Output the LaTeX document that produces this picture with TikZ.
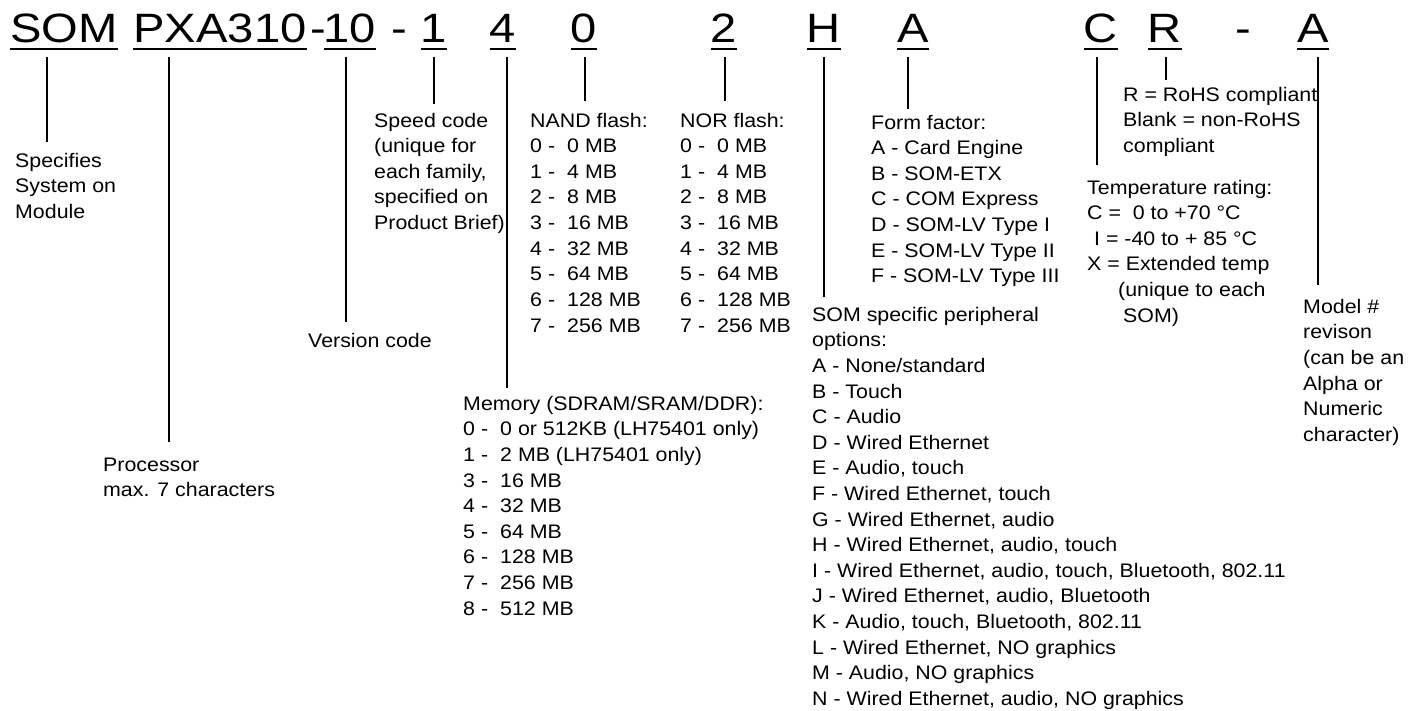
\documentclass[tikz,border=0pt]{standalone}
\usepackage{fontspec}
\setmainfont{Liberation Sans}[FakeStretch=1.09]
\newfontfamily\codefont{Liberation Sans}[FakeStretch=1.15]
\usetikzlibrary{calc}
\begin{document}
\begin{tikzpicture}[x=1pt,y=-1pt,
  code/.style={font=\codefont\fontsize{41}{41}\selectfont, inner sep=0pt, anchor=base},
  desc/.style={font=\fontsize{19.6}{25.6}\selectfont, inner sep=0pt, anchor=north west, yshift=17.92pt, align=left},
  conn/.style={line width=1.4pt},
  uline/.style={line width=2.4pt}]
\path[use as bounding box, fill=white] (0,0) rectangle (1419,711);

% part number characters
\node[code] (som)  at (64,43)   {SOM};
\node[code] (pxa)  at (220,43)  {PXA310};
\node[code] (d1)   at (318,43)  {-};
\node[code] (ver)  at (350,43)  {10};
\node[code] (d2)   at (399,43)  {-};
\node[code] (spd)  at (434,43)  {1};
\node[code] (mem)  at (503,43)  {4};
\node[code] (nand) at (584,43)  {0};
\node[code] (nor)  at (724,43)  {2};
\node[code] (per)  at (824,43)  {H};
\node[code] (ff)   at (913,43)  {A};
\node[code] (tmp)  at (1101,43) {C};
\node[code] (rohs) at (1165,43) {R};
\node[code] (d3)   at (1243,43) {-};
\node[code] (rev)  at (1313,43) {A};

\foreach \n in {som,pxa,ver,spd,mem,nand,nor,per,ff,tmp,rohs,rev}
  \draw[uline] ($(\n.base west)+(0,6)$) -- ($(\n.base east)+(0,6)$);

% descriptions
\node[desc] (spec) at (15,167) {\strut Specifies\\System on\\Module};
\node[desc] (proc) at (103,471) {\strut Processor\\max. 7 characters};
\node[desc] (vers) at (308,347) {\strut Version code};
\node[desc] (speed) at (374,127) {\strut Speed code\\(unique for\\each family,\\specified on\\Product Brief)};
\node[desc] (memd) at (463,410) {\strut Memory (SDRAM/SRAM/DDR):\\
  \makebox[37pt][l]{0 -}0 or 512KB (LH75401 only)\\
  \makebox[37pt][l]{1 -}2 MB (LH75401 only)\\
  \makebox[37pt][l]{3 -}16 MB\\
  \makebox[37pt][l]{4 -}32 MB\\
  \makebox[37pt][l]{5 -}64 MB\\
  \makebox[37pt][l]{6 -}128 MB\\
  \makebox[37pt][l]{7 -}256 MB\\
  \makebox[37pt][l]{8 -}512 MB};
\node[desc] (nandd) at (530,127) {\strut NAND flash:\\
  \makebox[37pt][l]{0 -}0 MB\\
  \makebox[37pt][l]{1 -}4 MB\\
  \makebox[37pt][l]{2 -}8 MB\\
  \makebox[37pt][l]{3 -}16 MB\\
  \makebox[37pt][l]{4 -}32 MB\\
  \makebox[37pt][l]{5 -}64 MB\\
  \makebox[37pt][l]{6 -}128 MB\\
  \makebox[37pt][l]{7 -}256 MB};
\node[desc] (nord) at (680,127) {\strut NOR flash:\\
  \makebox[37pt][l]{0 -}0 MB\\
  \makebox[37pt][l]{1 -}4 MB\\
  \makebox[37pt][l]{2 -}8 MB\\
  \makebox[37pt][l]{3 -}16 MB\\
  \makebox[37pt][l]{4 -}32 MB\\
  \makebox[37pt][l]{5 -}64 MB\\
  \makebox[37pt][l]{6 -}128 MB\\
  \makebox[37pt][l]{7 -}256 MB};
\node[desc] (ffd) at (871,129) {\strut Form factor:\\A - Card Engine\\B - SOM-ETX\\C - COM Express\\D - SOM-LV Type I\\E - SOM-LV Type II\\F - SOM-LV Type III};
\node[desc] (perd) at (812,321) {\strut SOM specific peripheral\\options:\\A - None/standard\\B - Touch\\C - Audio\\D - Wired Ethernet\\E - Audio, touch\\F - Wired Ethernet, touch\\G - Wired Ethernet, audio\\H - Wired Ethernet, audio, touch\\I - Wired Ethernet, audio, touch, Bluetooth, 802.11\\J - Wired Ethernet, audio, Bluetooth\\K - Audio, touch, Bluetooth, 802.11\\L - Wired Ethernet, NO graphics\\M - Audio, NO graphics\\N - Wired Ethernet, audio, NO graphics};
\node[desc] (tmpd) at (1087,194) {\strut Temperature rating:\\C =\ \ 0 to +70 °C\\\hspace*{7pt}I = -40 to + 85 °C\\X = Extended temp\\\hspace*{31pt}(unique to each\\\hspace*{36pt}SOM)};
\node[desc] (rohsd) at (1123,101) {\strut R = RoHS compliant\\Blank = non-RoHS\\compliant};
\node[desc] (revd) at (1303,313) {\strut Model \#\\revison\\(can be an\\Alpha or\\Numeric\\character)};

% connector x positions
\coordinate (xa) at (47,0);
\coordinate (xb) at (169,0);
\coordinate (xc) at (346,0);
\coordinate (xd) at (434,0);
\coordinate (xe) at (507,0);
\coordinate (xf) at (585,0);
\coordinate (xg) at (725,0);
\coordinate (xh) at (824,0);
\coordinate (xi) at (908,0);
\coordinate (xj) at (1097,0);
\coordinate (xk) at (1166,0);
\coordinate (xl) at (1318,0);

\draw[conn] ($(som.base -| xa)+(0,14)$)  -- ($(spec.north -| xa)+(0,-7)$);
\draw[conn] ($(pxa.base -| xb)+(0,14)$)  -- ($(proc.north -| xb)+(0,-11)$);
\draw[conn] ($(ver.base -| xc)+(0,14)$)  -- ($(vers.north -| xc)+(0,-7)$);
\draw[conn] ($(spd.base -| xd)+(0,14)$)  -- ($(speed.north -| xd)+(0,-5)$);
\draw[conn] ($(mem.base -| xe)+(0,14)$)  -- ($(memd.north -| xe)+(0,-4)$);
\draw[conn] ($(nand.base -| xf)+(0,14)$) -- ($(nandd.north -| xf)+(0,-8)$);
\draw[conn] ($(nor.base -| xg)+(0,14)$)  -- ($(nord.north -| xg)+(0,-8)$);
\draw[conn] ($(per.base -| xh)+(0,14)$)  -- ($(perd.north -| xh)+(0,-6)$);
\draw[conn] ($(ff.base -| xi)+(0,14)$)   -- ($(ffd.north -| xi)+(0,-2)$);
\draw[conn] ($(tmp.base -| xj)+(0,14)$)  -- ($(tmpd.north -| xj)+(0,-11)$);
\draw[conn] ($(rohs.base -| xk)+(0,14)$) -- ($(rohsd.north -| xk)+(0,-3)$);
\draw[conn] ($(rev.base -| xl)+(0,14)$)  -- ($(revd.north -| xl)+(0,-10)$);
\end{tikzpicture}
\end{document}
